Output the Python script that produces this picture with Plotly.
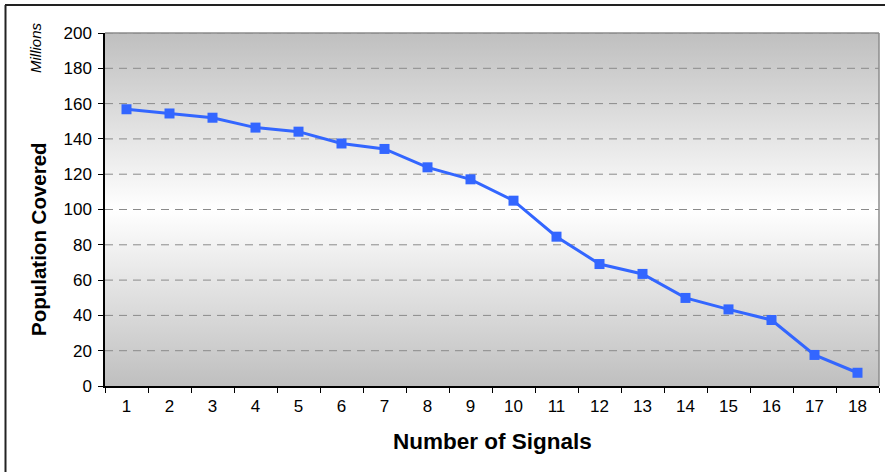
import plotly.graph_objects as go

# Number of signals and population covered (millions)
signals = list(range(1, 19))
population = [156.8, 154.4, 152.0, 146.4, 144.1, 137.4, 134.3, 123.9, 117.1,
              105.0, 84.6, 69.1, 63.5, 49.9, 43.4, 37.4, 17.6, 7.5]
y_ticks = [0, 20, 40, 60, 80, 100, 120, 140, 160, 180, 200]

FONT = "Liberation Sans, Arial, sans-serif"
W, H = 885, 472
L, R, T, B = 105, 6, 33, 86
x_lo, x_hi = 0.5, len(signals) + 0.5
y_lo, y_hi = y_ticks[0], y_ticks[-1]

fig = go.Figure()

# gradient plot-area background (grey - white - grey)
fig.add_trace(go.Scatter(
    x=[x_lo, x_hi, x_hi, x_lo, x_lo], y=[y_lo, y_lo, y_hi, y_hi, y_lo],
    mode="lines", line=dict(width=0), fill="toself",
    fillgradient=dict(type="vertical",
                      colorscale=[[0, "#bfbfbf"], [0.5, "#ffffff"], [1, "#bfbfbf"]]),
    hoverinfo="skip", showlegend=False))

# dashed horizontal gridlines over the gradient
gx, gy = [], []
for v in y_ticks[1:]:
    gx += [x_lo, x_hi, None]
    gy += [v, v, None]
fig.add_trace(go.Scatter(
    x=gx, y=gy, mode="lines",
    line=dict(color="#8a8a8a", width=1, dash="8px,6px"),
    hoverinfo="skip", showlegend=False))

# data series
fig.add_trace(go.Scatter(
    x=signals, y=population, mode="lines+markers",
    line=dict(color="#3366ff", width=3),
    marker=dict(symbol="square", size=10, color="#3366ff"),
    showlegend=False))

fig.update_xaxes(
    range=[x_lo, x_hi], tickmode="array", tickvals=signals,
    ticktext=[str(s) for s in signals], ticks="", ticklabelstandoff=4,
    minor=dict(tick0=0.5, dtick=1, ticks="outside", ticklen=5,
               tickcolor="#000000", tickwidth=1, showgrid=False),
    showgrid=False, zeroline=False, showline=True, linecolor="#000000",
    linewidth=1.5, tickfont=dict(family=FONT, size=17, color="#000000"))
fig.update_yaxes(
    range=[y_lo, y_hi], tickmode="array", tickvals=y_ticks,
    ticks="outside", ticklen=5, tickcolor="#000000", tickwidth=1,
    ticklabelstandoff=3,
    showgrid=False, zeroline=False, showline=True, linecolor="#000000",
    linewidth=1.5, tickfont=dict(family=FONT, size=17, color="#000000"))

def px_x(p):
    return (p - L) / (W - L - R)

def px_y(p):
    return (H - B - p) / (H - T - B)

fig.update_layout(
    width=W, height=H,
    margin=dict(l=L, r=R, t=T, b=B, pad=0),
    paper_bgcolor="#ffffff", plot_bgcolor="rgba(0,0,0,0)",
    font=dict(family=FONT, color="#000000"),
    shapes=[
        # grey frame on the top and right of the plot area
        dict(type="line", xref="paper", yref="paper", x0=0, x1=1, y0=1, y1=1,
             line=dict(color="#8c8c8c", width=1.5)),
        dict(type="line", xref="paper", yref="paper", x0=1, x1=1, y0=0, y1=1,
             line=dict(color="#8c8c8c", width=1.5)),
        # outer chart border (left and top)
        dict(type="line", xref="paper", yref="paper",
             x0=px_x(5.5), x1=px_x(5.5), y0=px_y(5), y1=px_y(H + 2),
             line=dict(color="#222222", width=2)),
        dict(type="line", xref="paper", yref="paper",
             x0=px_x(5), x1=px_x(W + 2), y0=px_y(5), y1=px_y(5),
             line=dict(color="#222222", width=2)),
    ],
    annotations=[
        dict(text="<i>Millions</i>", xref="paper", yref="paper",
             x=px_x(36), y=px_y(48), textangle=-90, showarrow=False,
             font=dict(family=FONT, size=15), xanchor="center", yanchor="middle"),
        dict(text="<b>Population Covered</b>", xref="paper", yref="paper",
             x=px_x(38), y=px_y(239), textangle=-90, showarrow=False,
             font=dict(family=FONT, size=20.5), xanchor="center", yanchor="middle"),
        dict(text="<b>Number of Signals</b>", xref="paper", yref="paper",
             x=px_x(492), y=px_y(442), showarrow=False,
             font=dict(family=FONT, size=22.5), xanchor="center", yanchor="middle"),
    ],
)

fig.write_html("out.html")
